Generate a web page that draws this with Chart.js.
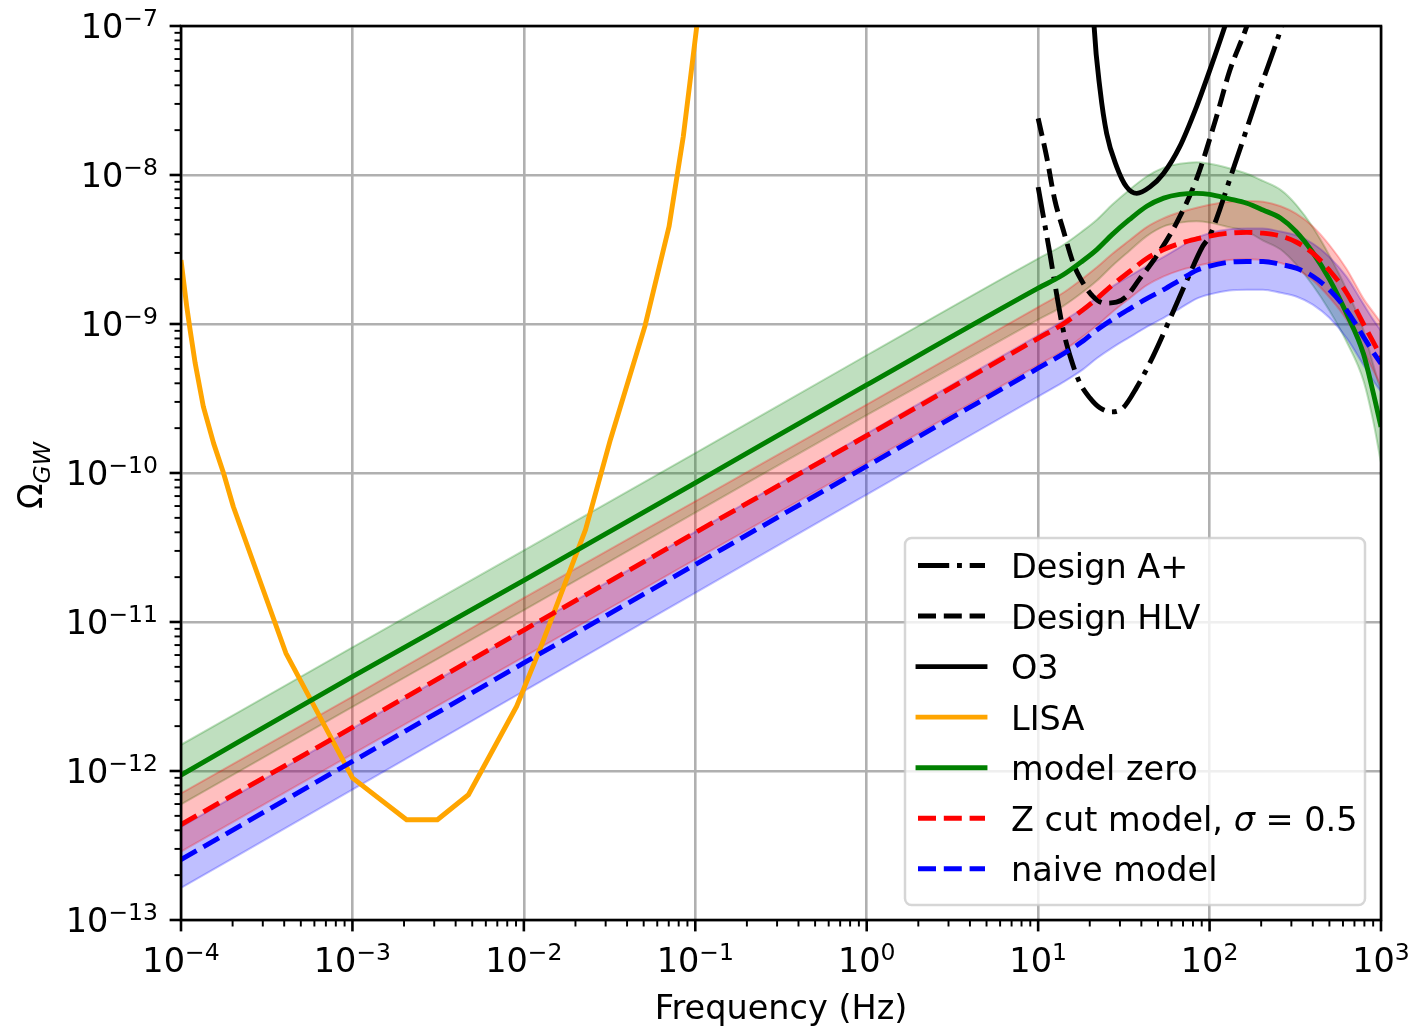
<!DOCTYPE html>
<html>
<head>
<meta charset="utf-8">
<title>Omega GW vs frequency</title>
<script src="https://cdn.jsdelivr.net/npm/chart.js"></script>
<style>
  html, body { margin: 0; padding: 0; background: #fff; }
  canvas { display: block; }
</style>
</head>
<body>
<canvas id="chart" width="1414" height="1029"></canvas>
<script>
// Model curves (Hz, Omega_GW)
const modelFreq = [1e-4, 1e-3, 1e-2, 1e-1, 1, 10, 14, 18, 22, 27, 34, 43, 54, 67, 84, 100, 130, 165, 205, 260, 320, 400, 500, 630, 790, 900, 1000];

const modelZero   = [9.4e-13, 4.3e-12, 1.9e-11, 8.6e-11, 3.9e-10, 1.74e-9, 2.14e-9, 2.63e-9, 3.16e-9, 3.98e-9, 5.01e-9, 6.17e-9, 7.0e-9, 7.41e-9, 7.53e-9, 7.41e-9, 6.92e-9, 6.46e-9, 5.82e-9, 5.13e-9, 4.17e-9, 3.02e-9, 2.0e-9, 1.175e-9, 6.31e-10, 3.47e-10, 2.04e-10];
const modelZeroHi = [1.50e-12, 6.76e-12, 3.02e-11, 1.36e-10, 6.17e-10, 2.75e-9, 3.39e-9, 4.17e-9, 5.01e-9, 6.31e-9, 7.94e-9, 9.77e-9, 1.12e-8, 1.19e-8, 1.22e-8, 1.19e-8, 1.11e-8, 1.02e-8, 9.12e-9, 7.94e-9, 6.31e-9, 4.47e-9, 2.88e-9, 1.70e-9, 9.12e-10, 5.37e-10, 3.55e-10];
const modelZeroLo = [5.96e-13, 2.69e-12, 1.20e-11, 5.43e-11, 2.45e-10, 1.07e-9, 1.32e-9, 1.62e-9, 1.95e-9, 2.45e-9, 3.09e-9, 3.89e-9, 4.52e-9, 4.79e-9, 4.90e-9, 4.79e-9, 4.47e-9, 4.17e-9, 3.63e-9, 3.16e-9, 2.51e-9, 1.82e-9, 1.23e-9, 7.59e-10, 4.17e-10, 2.24e-10, 1.17e-10];

const zCut   = [4.37e-13, 1.96e-12, 8.83e-12, 3.98e-11, 1.78e-10, 8.02e-10, 1.0e-9, 1.23e-9, 1.48e-9, 1.82e-9, 2.24e-9, 2.75e-9, 3.16e-9, 3.47e-9, 3.72e-9, 3.89e-9, 4.07e-9, 4.12e-9, 4.07e-9, 3.89e-9, 3.55e-9, 2.99e-9, 2.29e-9, 1.62e-9, 1.0e-9, 7.59e-10, 6.03e-10];
const zCutHi = [7.08e-13, 3.16e-12, 1.45e-11, 6.46e-11, 2.88e-10, 1.30e-9, 1.62e-9, 2.0e-9, 2.40e-9, 2.95e-9, 3.63e-9, 4.47e-9, 5.13e-9, 5.62e-9, 6.03e-9, 6.31e-9, 6.61e-9, 6.68e-9, 6.61e-9, 6.17e-9, 5.50e-9, 4.52e-9, 3.39e-9, 2.34e-9, 1.48e-9, 1.20e-9, 1.02e-9];
const zCutLo = [2.88e-13, 1.30e-12, 5.83e-12, 2.63e-11, 1.17e-10, 5.30e-10, 6.61e-10, 8.13e-10, 9.77e-10, 1.20e-9, 1.48e-9, 1.82e-9, 2.09e-9, 2.29e-9, 2.45e-9, 2.57e-9, 2.69e-9, 2.72e-9, 2.69e-9, 2.57e-9, 2.34e-9, 1.97e-9, 1.51e-9, 1.07e-9, 6.61e-10, 4.90e-10, 3.80e-10];

const naive   = [2.54e-13, 1.16e-12, 5.31e-12, 2.43e-11, 1.11e-10, 5.05e-10, 6.31e-10, 7.59e-10, 9.12e-10, 1.07e-9, 1.26e-9, 1.48e-9, 1.70e-9, 1.97e-9, 2.29e-9, 2.45e-9, 2.60e-9, 2.63e-9, 2.63e-9, 2.51e-9, 2.37e-9, 2.09e-9, 1.70e-9, 1.24e-9, 8.22e-10, 6.46e-10, 5.43e-10];
const naiveHi = [4.22e-13, 1.93e-12, 8.81e-12, 4.03e-11, 1.84e-10, 8.38e-10, 1.05e-9, 1.26e-9, 1.51e-9, 1.78e-9, 2.09e-9, 2.45e-9, 2.82e-9, 3.27e-9, 3.80e-9, 4.07e-9, 4.32e-9, 4.37e-9, 4.37e-9, 4.17e-9, 3.94e-9, 3.47e-9, 2.82e-9, 2.07e-9, 1.36e-9, 1.07e-9, 9.02e-10];
const naiveLo = [1.64e-13, 7.50e-13, 3.43e-12, 1.57e-11, 7.16e-11, 3.26e-10, 4.07e-10, 4.90e-10, 5.89e-10, 6.92e-10, 8.13e-10, 9.55e-10, 1.10e-9, 1.27e-9, 1.48e-9, 1.58e-9, 1.68e-9, 1.70e-9, 1.70e-9, 1.62e-9, 1.53e-9, 1.35e-9, 1.10e-9, 8.04e-10, 5.31e-10, 4.17e-10, 3.51e-10];

// Detector sensitivity curves
const lisaFreq  = [1e-4, 1.08e-4, 1.13e-4, 1.21e-4, 1.35e-4, 1.55e-4, 1.77e-4, 2.02e-4, 4.09e-4, 1.0e-3, 2.07e-3, 3.13e-3, 4.75e-3, 9.08e-3, 1.26e-2, 2.29e-2, 3.2e-2, 5.08e-2, 7.03e-2, 8.51e-2, 9.29e-2, 1.019e-1, 1.1e-1];
const lisaOmega = [2.69e-9, 1.31e-9, 9.12e-10, 5.45e-10, 2.79e-10, 1.58e-10, 1.0e-10, 5.94e-11, 6.19e-12, 9.0e-13, 4.71e-13, 4.71e-13, 6.93e-13, 2.72e-12, 6.87e-12, 4.17e-11, 1.68e-10, 9.64e-10, 4.51e-9, 1.81e-8, 4.11e-8, 9.84e-8, 2.5e-7];

const o3Freq  = [20.5, 21.2, 23, 25.1, 28.7, 32.8, 37.6, 44.9, 53.7, 67, 84, 100, 123, 140];
const o3Omega = [2.5e-7, 1.0e-7, 3.7e-8, 1.9e-8, 1.14e-8, 8.32e-9, 7.53e-9, 8.32e-9, 1.02e-8, 1.55e-8, 2.88e-8, 5.0e-8, 1.0e-7, 1.6e-7];

const hlvFreq  = [10, 11.2, 12.5, 14, 16, 18.3, 20.9, 24.4, 28.6, 32.7, 39, 48.9, 64, 83.6, 109, 131, 165, 180];
const hlvOmega = [2.4e-8, 1.33e-8, 6.81e-9, 4.29e-9, 2.57e-9, 1.88e-9, 1.53e-9, 1.38e-9, 1.40e-9, 1.53e-9, 2.0e-9, 2.84e-9, 4.74e-9, 9.27e-9, 2.40e-8, 5.0e-8, 1.0e-7, 1.4e-7];

const aplusFreq  = [10, 10.9, 11.7, 12.5, 14, 15.6, 17.5, 20, 22.9, 26.7, 31.3, 37.4, 46.8, 58.5, 73, 91, 100, 140, 200, 263, 300];
const aplusOmega = [8.3e-9, 4.74e-9, 2.99e-9, 1.88e-9, 9.12e-10, 5.75e-10, 4.03e-10, 3.2e-10, 2.74e-10, 2.57e-10, 2.74e-10, 3.72e-10, 6.07e-10, 1.07e-9, 1.91e-9, 3.31e-9, 3.89e-9, 1.17e-8, 3.98e-8, 1.0e-7, 1.8e-7];

// Axis ticks
const xTickValues = [1e-4, 1e-3, 1e-2, 1e-1, 1, 10, 100, 1000];
const xTickExps   = ['\u22124', '\u22123', '\u22122', '\u22121', '0', '1', '2', '3'];
const yTickValues = [1e-13, 1e-12, 1e-11, 1e-10, 1e-9, 1e-8, 1e-7];
const yTickExps   = ['\u221213', '\u221212', '\u221211', '\u221210', '\u22129', '\u22128', '\u22127'];

const legendLabels = ['Design A+', 'Design HLV', 'O3', 'LISA', 'model zero', 'Z cut model, \u03c3 = 0.5', 'naive model'];

const FONT = '"DejaVu Sans"';
const mainFont = '33.5px ' + FONT;
const supFont = '23.5px ' + FONT;
const dashed = [18, 7.8];
const dashDot = [31.2, 7.8, 4.9, 7.8];

const pts = (xs, ys) => xs.map((x, i) => ({ x: x, y: ys[i] }));

// majors plus 2..9 minors per decade
const withMinors = (majors) => {
    const out = [];
    majors.forEach((v, i) => {
        out.push({ value: v, major: true });
        if (i < majors.length - 1) {
            for (let m = 2; m <= 9; m++) out.push({ value: m * v, major: false });
        }
    });
    return out;
};

const band = (data, rgb, fill, order) => ({
    data: data,
    borderColor: 'rgba(' + rgb + ',0.25)',
    backgroundColor: 'rgba(' + rgb + ',0.25)',
    borderWidth: 2,
    fill: fill,
    order: order,
    isBand: true,
    pointRadius: 0,
    clip: 0,
    cubicInterpolationMode: 'monotone'
});

const curve = (label, data, color, dash, order, smooth) => ({
    label: label,
    data: data,
    borderColor: color,
    borderWidth: 4.9,
    borderDash: dash,
    borderJoinStyle: 'round',
    fill: false,
    order: order,
    pointRadius: 0,
    clip: 0,
    cubicInterpolationMode: smooth ? 'monotone' : 'default',
    tension: 0
});

const datasets = [
    band(pts(modelFreq, modelZeroHi), '0,128,0', '+1', 30),
    band(pts(modelFreq, modelZeroLo), '0,128,0', false, 31),
    band(pts(modelFreq, naiveHi), '0,0,255', '+1', 25),
    band(pts(modelFreq, naiveLo), '0,0,255', false, 26),
    band(pts(modelFreq, zCutHi), '255,0,0', '+1', 20),
    band(pts(modelFreq, zCutLo), '255,0,0', false, 21),
    curve(legendLabels[0], pts(aplusFreq, aplusOmega), '#000000', dashDot, 7, true),
    curve(legendLabels[1], pts(hlvFreq, hlvOmega), '#000000', dashed, 6, true),
    curve(legendLabels[2], pts(o3Freq, o3Omega), '#000000', [], 5, true),
    curve(legendLabels[3], pts(lisaFreq, lisaOmega), '#ffa500', [], 4, false),
    curve(legendLabels[4], pts(modelFreq, modelZero), '#008000', [], 3, true),
    curve(legendLabels[5], pts(modelFreq, zCut), '#ff0000', dashed, 2, true),
    curve(legendLabels[6], pts(modelFreq, naive), '#0000ff', dashed, 1, true)
];

const gridColor = (c) => (c.tick && c.tick.major ? '#b0b0b0' : 'rgba(0,0,0,0)');

// frame, tick marks, math-style labels, axis titles, legend
const decor = {
    id: 'decor',
    afterDraw(chart) {
        const c = chart.ctx;
        const a = chart.chartArea;
        const xs = chart.scales.x;
        const ys = chart.scales.y;
        c.save();
        c.setLineDash([]);
        c.strokeStyle = '#000';
        c.lineCap = 'butt';
        c.lineWidth = 2.6;
        c.strokeRect(a.left, a.top, a.right - a.left, a.bottom - a.top);

        xs.ticks.forEach((t) => {
            const px = xs.getPixelForValue(t.value);
            c.lineWidth = t.major ? 2.6 : 1.95;
            c.beginPath();
            c.moveTo(px, a.bottom);
            c.lineTo(px, a.bottom + (t.major ? 11.4 : 6.5));
            c.stroke();
        });
        ys.ticks.forEach((t) => {
            const py = ys.getPixelForValue(t.value);
            c.lineWidth = t.major ? 2.6 : 1.95;
            c.beginPath();
            c.moveTo(a.left, py);
            c.lineTo(a.left - (t.major ? 11.4 : 6.5), py);
            c.stroke();
        });

        c.fillStyle = '#000';
        c.textAlign = 'left';
        c.textBaseline = 'alphabetic';
        c.font = mainFont;
        const w10 = c.measureText('10').width;

        xTickValues.forEach((v, i) => {
            const px = xs.getPixelForValue(v);
            c.font = supFont;
            const we = c.measureText(xTickExps[i]).width;
            const x0 = px - (w10 + we) / 2;
            c.font = mainFont;
            c.fillText('10', x0, a.bottom + 52);
            c.font = supFont;
            c.fillText(xTickExps[i], x0 + w10, a.bottom + 40);
        });
        yTickValues.forEach((v, i) => {
            const py = ys.getPixelForValue(v);
            c.font = supFont;
            const we = c.measureText(yTickExps[i]).width;
            const xr = a.left - 23;
            c.fillText(yTickExps[i], xr - we, py);
            c.font = mainFont;
            c.fillText('10', xr - we - w10, py + 12);
        });

        // x title
        c.font = mainFont;
        c.textAlign = 'center';
        c.fillText('Frequency (Hz)', (a.left + a.right) / 2, 1019);

        // y title: Omega with italic GW subscript
        c.save();
        c.translate(42, 509);
        c.rotate(-Math.PI / 2);
        c.textAlign = 'left';
        c.font = mainFont;
        c.fillText('\u03a9', 0, 0);
        const wO = c.measureText('\u03a9').width;
        c.font = 'oblique ' + supFont;
        c.fillText('GW', wO, 8);
        c.restore();

        // legend
        const lx = a.right - 476, ly = a.top + 512, lw = 460, lh = 367;
        c.beginPath();
        c.roundRect(lx, ly, lw, lh, 6.5);
        c.fillStyle = 'rgba(255,255,255,0.8)';
        c.fill();
        c.lineWidth = 2.5;
        c.strokeStyle = 'rgba(204,204,204,0.8)';
        c.stroke();

        const items = chart.data.datasets.filter((d) => !d.isBand);
        items.forEach((d, i) => {
            const base = ly + 40 + i * 50.55;
            const hy = base - 12.5;
            c.strokeStyle = d.borderColor;
            c.lineWidth = 4.9;
            c.setLineDash(d.borderDash);
            c.lineCap = d.borderDash.length ? 'butt' : 'square';
            c.beginPath();
            c.moveTo(lx + 13, hy);
            c.lineTo(lx + 80, hy);
            c.stroke();
            c.setLineDash([]);

            c.fillStyle = '#000';
            c.textAlign = 'left';
            let tx = lx + 106;
            const parts = d.label.split('\u03c3');
            parts.forEach((p, k) => {
                c.font = mainFont;
                c.fillText(p, tx, base);
                tx += c.measureText(p).width;
                if (k < parts.length - 1) {
                    c.font = 'oblique ' + mainFont;
                    c.fillText('\u03c3', tx, base);
                    tx += c.measureText('\u03c3').width;
                }
            });
        });
        c.restore();
    }
};

const ctx = document.getElementById('chart').getContext('2d');

new Chart(ctx, {
    type: 'line',
    data: { datasets: datasets },
    options: {
        responsive: false,
        devicePixelRatio: 1,
        animation: false,
        layout: { padding: { left: 181, right: 33, top: 26, bottom: 109 } },
        plugins: {
            legend: { display: false },
            tooltip: { enabled: false },
            title: { display: false }
        },
        scales: {
            x: {
                type: 'logarithmic',
                min: 1e-4,
                max: 1e3,
                afterBuildTicks: (axis) => { axis.ticks = withMinors(xTickValues); },
                ticks: { display: false },
                grid: { color: gridColor, lineWidth: 2.6, drawTicks: false },
                border: { display: false }
            },
            y: {
                type: 'logarithmic',
                min: 1e-13,
                max: 1e-7,
                afterBuildTicks: (axis) => { axis.ticks = withMinors(yTickValues); },
                ticks: { display: false },
                grid: { color: gridColor, lineWidth: 2.6, drawTicks: false },
                border: { display: false }
            }
        }
    },
    plugins: [decor]
});
</script>
</body>
</html>
